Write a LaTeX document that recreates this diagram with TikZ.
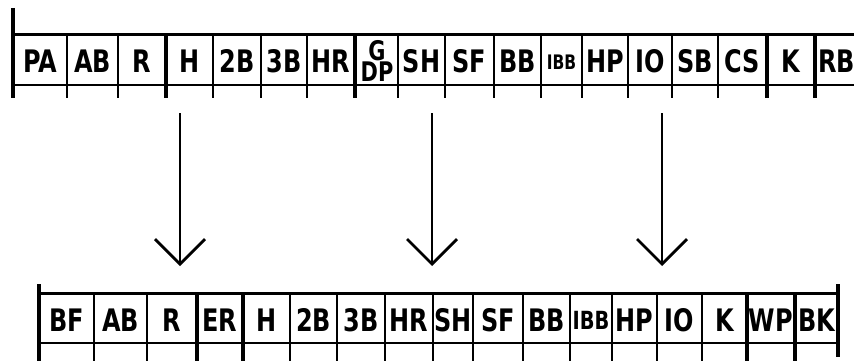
\documentclass[tikz,border=0pt]{standalone}
\usepackage{fontspec}
\newfontfamily\cellfont{DejaVu Sans Condensed Bold}[FakeStretch=0.86]
\usetikzlibrary{arrows.meta}

\tikzset{
  cell/.style={inner sep=0pt, font=\fontsize{31}{31}\cellfont},
  gdpcell/.style={inner sep=0pt, align=center, font=\fontsize{27}{20}\cellfont},
  rule/.style={line width=2pt},
  heavyrule/.style={line width=3.2pt},
  move/.style={draw, line width=2.8pt, -{Straight Barb[length=25pt,width=50pt]}}
}

\begin{document}
\begin{tikzpicture}[x=1pt,y=-1pt]
\path[use as bounding box,fill=white] (0,0) rectangle (854,361);
\begin{scope}
\clip (0,0) rectangle (854,361);

% upper score row
\draw[line width=3pt] (12,35) -- (870,35);
\draw[line width=2.5pt] (12,85) -- (870,85);
\draw[line width=4pt] (13,8) -- (13,98);
\foreach \x in {67,118,213,261,307,398,445,494,541,582,628,672,718}
  \draw[rule] (\x,35) -- (\x,98);
\foreach \x in {166,355,767,815}
  \draw[heavyrule] (\x,35) -- (\x,98);

\foreach \x/\lbl [count=\i] in {40/PA,92.5/AB,142/R,189.5/H,237/2B,284/3B,331/HR,
    421.5/SH,469.5/SF,517.5/BB,605/HP,650/IO,695/SB,742.5/CS,791/K}
  \node[cell] (t\i) at (\x,61) {\lbl};
\node[gdpcell] (tgdp) at (377,61) {G\\DP};
\node[cell, font=\fontsize{20}{20}\cellfont] (tibb) at (561.5,62) {IBB};
\node[cell, anchor=west] (trbi) at (818,61) {RBI};

% lower score row
\draw[line width=3pt] (39,293) -- (838,293);
\draw[line width=2.5pt] (39,343) -- (838,343);
\draw[line width=4pt] (39,284) -- (39,361);
\draw[line width=4pt] (838,284) -- (838,357);
\foreach \x in {94,147,290,337,385,433,473,523,570,612,657,702}
  \draw[rule] (\x,293) -- (\x,361);
\foreach \x in {197,243,747,795}
  \draw[heavyrule] (\x,293) -- (\x,361);

\foreach \x/\lbl [count=\i] in {66.5/BF,120.5/AB,172/R,220/ER,266.5/H,313.5/2B,361/3B,
    409/HR,453/SH,498/SF,546.5/BB,634.5/HP,679.5/IO,724.5/K,771/WP,816.5/BK}
  \node[cell] (b\i) at (\x,320) {\lbl};
\node[cell, font=\fontsize{25}{25}\cellfont] (bibb) at (591,320) {IBB};

% arrows
\coordinate (from1) at (180,113);
\coordinate (to1) at (180,266);
\coordinate (from2) at (432,113);
\coordinate (to2) at (432,266);
\coordinate (from3) at (662,113);
\coordinate (to3) at (662,266);
\foreach \i in {1,2,3}
  \draw[move] (from\i) -- (to\i);
\end{scope}
\end{tikzpicture}
\end{document}
